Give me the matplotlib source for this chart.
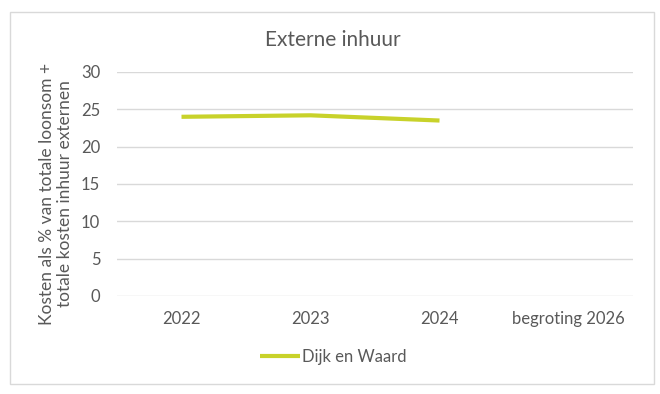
import matplotlib
matplotlib.use("Agg")
import matplotlib.pyplot as plt
from matplotlib.patches import Rectangle

categories = ["2022", "2023", "2024", "begroting 2026"]
series_name = "Dijk en Waard"
values = [24.0, 24.2, 23.5]
yticks = [0, 5, 10, 15, 20, 25, 30]

plt.rcParams['font.family'] = ['Lato', 'DejaVu Sans']
text_color = "#595959"
line_color = "#C8D22A"

fig = plt.figure(figsize=(6.6, 3.94), dpi=100)
fig.patch.set_facecolor("white")
fig.patches.append(Rectangle((10/660, 1 - 384/394), 644/660, 372/394,
                             transform=fig.transFigure, fill=False,
                             edgecolor="#D9D9D9", linewidth=1))

ax = fig.add_axes([117/660, 1 - 296/394, 516/660, 224/394])
x = list(range(len(categories)))
ax.plot(x[:len(values)], values, color=line_color, linewidth=3,
        solid_capstyle="butt", label=series_name)
ax.set_xlim(-0.5, len(categories) - 0.5)
ax.set_ylim(0, 30)
ax.set_yticks(yticks)
ax.set_xticks(x)
ax.set_xticklabels(categories)
ax.grid(axis="y", color="#D9D9D9", linewidth=1)
ax.set_axisbelow(True)
for s in ax.spines.values():
    s.set_visible(False)
ax.tick_params(axis="both", length=0, labelsize=12, colors=text_color)
ax.tick_params(axis="y", pad=12)
ax.tick_params(axis="x", pad=11)

fig.text(333/660, 1 - 40/394, "Externe inhuur", ha="center", va="center",
         fontsize=15, color=text_color)
fig.text(56/660, 1 - 194/394,
         "Kosten als % van totale loonsom +\ntotale kosten inhuur externen",
         rotation=90, ha="center", va="center", fontsize=12.5,
         color=text_color, linespacing=1.2, multialignment="center")

leg = fig.legend(loc="center", bbox_to_anchor=(333/660, 1 - 357/394),
                 frameon=False, fontsize=12, handlelength=2.4,
                 handletextpad=0.15, labelcolor=text_color)

fig.savefig("out.png", dpi=100)
